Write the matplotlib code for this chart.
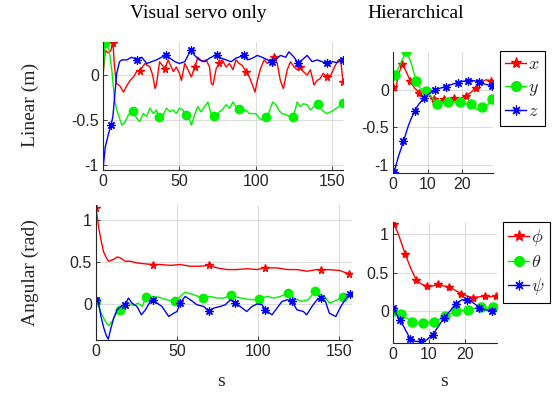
import numpy as np
import matplotlib
matplotlib.use("Agg")
import matplotlib.pyplot as plt
from matplotlib.lines import Line2D

plt.rcParams['font.family'] = ['Liberation Sans', 'DejaVu Sans']
plt.rcParams['mathtext.fontset'] = 'cm'

# ---------------- Data: Visual servo only, linear ----------------
vs_x_t = [0, 1.5, 3, 5, 6.5, 7.5, 8.7, 11, 13.4, 15.5, 17.7, 20, 22, 24, 27.5, 30.7, 32.5, 34, 35, 37,
          40.5, 42.6, 46, 48, 50, 51.3, 53.5, 55.6, 57.8, 60, 62, 65, 67.5, 69.7, 70.8, 72, 74, 76, 78,
          80.5, 82.7, 85, 87, 89, 91, 93.5, 95.7, 97.8, 99.4, 101, 103, 105.4, 107.6, 110, 112, 114, 116,
          118, 120.5, 122.7, 125, 127, 129, 131, 133.5, 135.7, 138, 140, 142, 144, 146.5, 149, 152, 154,
          155.5, 157]
vs_x_v = [0.0, 0.28, 0.25, 0.27, 0.36, 0.1, -0.09, -0.12, -0.19, -0.12, -0.06, -0.02, 0.04, 0.05, 0.13,
          0.09, 0.0, -0.15, -0.1, 0.15, 0.07, 0.17, 0.04, 0.09, 0.02, -0.06, 0.13, 0.06, -0.02, 0.09, 0.2,
          0.15, 0.17, 0.09, -0.09, -0.11, 0.07, 0.13, 0.17, 0.09, 0.13, 0.06, 0.17, 0.13, 0.11, 0.04, -0.02,
          -0.11, -0.19, -0.06, 0.07, 0.17, 0.13, 0.17, 0.2, 0.13, -0.06, -0.15, 0.06, 0.15, 0.09, 0.06, 0.09,
          0.04, 0.0, 0.06, -0.11, -0.06, -0.04, 0.02, -0.02, 0.0, 0.11, 0.17, 0.18, -0.08]
vs_x_marks = [6.5, 24, 41.5, 59, 76.5, 94, 111.5, 129, 146.5, 157]

vs_y_t = [0, 1.5, 4, 5.8, 7.6, 9, 10.8, 12.3, 14.5, 16.7, 19.5, 22, 24, 26.4, 28.6, 30.7, 33, 35, 36.6,
          39.4, 41.6, 43.7, 46, 48, 50, 52.4, 54, 56.7, 57.8, 60, 62, 64, 66.5, 68.6, 70.8, 72.3, 74, 76,
          78, 80.5, 82.7, 85, 87, 89, 91, 93.5, 95.7, 97.8, 100, 102, 104, 106.5, 108.7, 111, 113, 115,
          117, 119.5, 121.6, 124, 126, 127, 129, 131, 133.5, 135.7, 138, 140.7, 143, 146.5, 149, 152, 155, 157]
vs_y_v = [0.0, 0.36, 0.28, 0.05, -0.28, -0.39, -0.48, -0.56, -0.52, -0.44, -0.40, -0.48, -0.52, -0.43,
          -0.46, -0.37, -0.43, -0.39, -0.47, -0.44, -0.37, -0.41, -0.39, -0.43, -0.37, -0.39, -0.44, -0.5,
          -0.56, -0.44, -0.35, -0.41, -0.35, -0.30, -0.44, -0.46, -0.5, -0.41, -0.39, -0.33, -0.37, -0.30,
          -0.35, -0.38, -0.41, -0.39, -0.43, -0.43, -0.43, -0.48, -0.5, -0.47, -0.41, -0.30, -0.33, -0.39,
          -0.43, -0.44, -0.46, -0.47, -0.37, -0.30, -0.35, -0.32, -0.33, -0.39, -0.35, -0.32, -0.39, -0.43,
          -0.41, -0.38, -0.34, -0.31]
vs_y_marks = [1.5, 19.5, 36.6, 54, 72.3, 89, 106.5, 124, 140.7, 157]

vs_z_t = [0, 1.5, 3.7, 5.2, 6.5, 7.6, 9, 10.8, 12.3, 15.6, 18.8, 22, 25.3, 28.6, 31.8, 35, 38.3, 41, 43.7,
          47, 50, 53.5, 55.6, 57.4, 60, 63, 66.5, 69.7, 74.5, 77.3, 80.5, 83.8, 87, 92, 94.6, 97.8, 101,
          104, 107.6, 110.4, 113, 116, 119.5, 121.6, 125, 127.7, 130.3, 133.5, 136.8, 140, 143.3, 146.5,
          150, 153, 157]
vs_z_v = [-1.05, -0.8, -0.65, -0.56, -0.46, -0.24, 0.02, 0.15, 0.17, 0.17, 0.2, 0.17, 0.2, 0.13, 0.15,
          0.17, 0.2, 0.23, 0.19, 0.15, 0.13, 0.15, 0.22, 0.28, 0.22, 0.17, 0.15, 0.19, 0.23, 0.19, 0.17,
          0.15, 0.19, 0.22, 0.17, 0.19, 0.22, 0.2, 0.17, 0.15, 0.17, 0.22, 0.2, 0.26, 0.2, 0.13, 0.17, 0.22,
          0.15, 0.17, 0.15, 0.13, 0.15, 0.14, 0.17]
vs_z_marks = [5.2, 22, 41, 57.4, 74.5, 92, 110.4, 127.7, 146.5, 157]

# ---------------- Data: Hierarchical, linear ----------------
h_x_t = [0, 0.8, 1.4, 2.7, 3.8, 5, 6.2, 7.6, 9, 10.5, 11.9, 13.3, 14.8, 16.2, 17.6, 19, 21, 22.4, 23.8,
         25.2, 26.7, 28.1]
h_x_v = [0.04, -0.02, 0.18, 0.34, 0.24, 0.11, 0.02, -0.04, -0.04, -0.09, -0.13, -0.16, -0.12, -0.13,
         -0.11, -0.13, -0.08, -0.04, 0.02, 0.09, 0.13, 0.12]
h_x_marks = [0, 2.7, 5, 7.6, 11.9, 14.8, 17.6, 21, 23.8, 28.1]

h_y_t = [0, 0.7, 1.4, 3.8, 5.2, 6.7, 8.1, 9.5, 11, 12.6, 14.3, 15.9, 17.6, 19.2, 21, 22.4, 24.3, 25.7,
         27.4, 28.6]
h_y_v = [0.2, 0.2, 0.27, 0.51, 0.36, 0.11, 0.0, -0.02, -0.09, -0.19, -0.17, -0.16, -0.17, -0.16, -0.19,
         -0.19, -0.27, -0.23, -0.2, -0.12]
h_y_marks = [0.7, 3.8, 6.7, 9.5, 12.6, 15.9, 19.2, 22.4, 25.7, 28.6]

h_z_t = [0.3, 1.5, 3, 4.5, 6.2, 7.5, 9, 10.5, 12.2, 13.7, 15.2, 17, 18.6, 20, 21.7, 23.3, 24.9, 26.6, 28.4]
h_z_v = [-1.1, -0.9, -0.69, -0.47, -0.28, -0.19, -0.11, -0.05, 0.0, 0.02, 0.04, 0.07, 0.09, 0.11, 0.12,
         0.12, 0.1, 0.07, 0.05]
h_z_marks = [0.3, 3, 6.2, 9, 12.2, 15.2, 18.6, 21.7, 24.9, 28.4]

# ---------------- Data: Visual servo only, angular ----------------
vs_phi_t = [0, 1.6, 3.1, 4.7, 6.4, 7.8, 10.9, 13, 15, 18, 21, 25, 29.4, 35, 39.7, 46, 52, 58, 64.4, 69.5,
            74.7, 80.9, 87, 93, 99.4, 104, 111.7, 118, 124, 130, 136.4, 139, 142.6, 150, 156]
vs_phi_v = [1.14, 0.92, 0.76, 0.62, 0.55, 0.51, 0.53, 0.56, 0.55, 0.51, 0.51, 0.49, 0.48, 0.47, 0.47, 0.46,
            0.47, 0.45, 0.45, 0.46, 0.43, 0.41, 0.41, 0.42, 0.41, 0.43, 0.43, 0.41, 0.41, 0.39, 0.41, 0.40,
            0.41, 0.40, 0.36]
vs_phi_marks = [0, 35, 69.5, 104, 139, 156]

vs_th_t = [0, 1.6, 3.7, 5.8, 7.8, 9.9, 11.9, 14.6, 17, 20, 23, 26, 28.4, 31, 34.6, 38.7, 43.8, 49, 52, 55,
           60.3, 66, 70.6, 74.7, 78.8, 83.3, 87, 92, 96.3, 100.8, 105.5, 109.7, 113.8, 118.3, 123, 127, 131,
           135.4, 138.5, 141.6, 144, 148, 152.5, 156]
vs_th_v = [0.03, -0.03, -0.13, -0.21, -0.26, -0.21, -0.13, -0.07, -0.02, 0.01, -0.02, 0.01, -0.03, 0.08,
           0.09, 0.08, 0.05, 0.03, 0.09, 0.14, 0.11, 0.07, 0.09, 0.07, 0.07, 0.11, 0.08, 0.06, 0.05, 0.06,
           0.09, 0.07, 0.09, 0.13, 0.06, 0.03, 0.05, 0.16, 0.11, 0.08, 0.01, 0.04, 0.08, 0.1]
vs_th_marks = [0, 14.6, 31, 49, 66, 83.3, 100.8, 118.3, 135.4, 152.5]

vs_psi_t = [0, 1.6, 3.1, 4.7, 6.4, 7.6, 8.8, 10.9, 13, 16, 18, 20, 22.2, 25.3, 28, 30.5, 33.5, 35, 37.7,
            40.7, 44.9, 48, 50, 52, 55, 58.2, 62.3, 66.5, 69.5, 72.6, 76.7, 79.8, 83, 86, 89, 93, 96.3,
            99.4, 102.5, 104.5, 108.6, 111.7, 114.8, 118, 121, 124, 128, 130, 133.3, 136.4, 139, 141.6,
            144, 148, 151.4, 154.5, 156.6]
vs_psi_v = [0.05, 0.01, -0.15, -0.28, -0.38, -0.42, -0.32, -0.17, -0.07, -0.02, -0.01, 0.07, 0.01, -0.03,
            -0.13, -0.07, 0.03, 0.05, 0.01, -0.03, -0.15, -0.11, -0.09, 0.01, 0.09, 0.05, -0.01, -0.03,
            -0.09, -0.05, -0.03, -0.01, 0.05, 0.01, -0.03, -0.09, -0.03, 0.0, -0.01, -0.07, -0.13, -0.05,
            0.03, 0.05, 0.03, -0.07, -0.09, -0.13, -0.03, 0.05, 0.07, 0.03, -0.11, -0.15, -0.02, 0.07, 0.12]
vs_psi_marks = [0, 18, 35, 52, 69.5, 86, 104.5, 121, 139, 156.6]

# ---------------- Data: Hierarchical, angular ----------------
h_phi_t = [0, 0.2, 1.5, 3.4, 5, 6.4, 8, 9.4, 11, 12.4, 14, 15.6, 17, 18.9, 20.5, 22.1, 24, 25.5, 27, 28.5]
h_phi_v = [1.14, 1.14, 1.0, 0.74, 0.55, 0.41, 0.35, 0.33, 0.33, 0.35, 0.33, 0.32, 0.28, 0.23, 0.2, 0.18,
           0.19, 0.2, 0.19, 0.2]
h_phi_marks = [0.2, 3.4, 6.4, 9.4, 12.4, 15.6, 18.9, 22.1, 25.5, 28.5]

h_th_t = [0, 2.3, 5.3, 8.3, 11.4, 14.5, 17.5, 20.9, 24.3, 26, 27.8]
h_th_v = [0.01, -0.03, -0.14, -0.15, -0.14, -0.06, 0.0, 0.02, 0.06, 0.03, 0.06]
h_th_marks = [0, 2.3, 5.3, 8.3, 11.4, 14.5, 17.5, 20.9, 24.3, 27.8]

h_psi_t = [0, 1.8, 3, 4.8, 6.2, 7.7, 9.3, 11, 12.5, 14, 15.7, 17.4, 19, 20.5, 22, 23.9, 25.5, 27.4, 28.5]
h_psi_v = [0.05, -0.11, -0.2, -0.36, -0.39, -0.39, -0.37, -0.3, -0.2, -0.09, 0.0, 0.1, 0.15, 0.15, 0.12,
           0.05, 0.02, 0.01, 0.0]
h_psi_marks = [0, 1.8, 4.8, 7.7, 11, 14, 17.4, 20.5, 23.9, 27.4]

# ---------------- Styling ----------------
RED = (1, 0, 0)
GREEN = (0, 0.95, 0)
BLUE = (0, 0, 1)
STAR = '*'
CIRC = 'o'
AST = (8, 2, 0)
TXT = '#262626'

fig = plt.figure(figsize=(5.57, 3.96), dpi=100)

def make_ax(rect, xlim, ylim, xticks, yticks):
    ax = fig.add_axes(rect)
    ax.set_xlim(*xlim)
    ax.set_ylim(*ylim)
    ax.set_xticks(xticks)
    ax.set_yticks(yticks)
    ax.set_xticklabels([f'{v:g}' for v in xticks])
    ax.set_yticklabels([f'{v:g}' for v in yticks])
    for s in ['top', 'right']:
        ax.spines[s].set_visible(False)
    for s in ['left', 'bottom']:
        ax.spines[s].set_color(TXT)
        ax.spines[s].set_linewidth(0.8)
    ax.tick_params(direction='in', length=3, width=0.6, colors=TXT, labelsize=11.5, pad=3)
    ax.grid(True, color='#dcdcdc', linewidth=0.8)
    ax.set_axisbelow(True)
    return ax

def marks_idx(t, mt):
    t = np.asarray(t)
    return sorted(set(int(np.argmin(np.abs(t - m))) for m in mt))

def series(ax, t, v, mt, color, marker, ms):
    kw = dict(color=color, linewidth=1.0, marker=marker, markevery=marks_idx(t, mt),
              markersize=ms, markerfacecolor=color, markeredgecolor=color)
    if marker == AST:
        kw['markeredgewidth'] = 0.9
    ax.plot(t, v, **kw)

W, H = 557.0, 396.0
def rect(l, r, top, bot):
    return [l / W, 1 - bot / H, (r - l) / W, (bot - top) / H]

ax1 = make_ax(rect(103, 343, 42, 170), (0, 157), (-1.06, 0.37), [0, 50, 100, 150], [-1, -0.5, 0])
ax2 = make_ax(rect(393, 493, 52, 173), (0, 28.8), (-1.11, 0.5), [0, 10, 20], [-1, -0.5, 0])
ax3 = make_ax(rect(96, 352, 205, 340), (0, 158), (-0.43, 1.18), [0, 50, 100, 150], [0, 0.5, 1])
ax4 = make_ax(rect(393, 497, 222, 343), (0, 28.8), (-0.41, 1.16), [0, 10, 20], [0, 0.5, 1])

series(ax1, vs_x_t, vs_x_v, vs_x_marks, RED, STAR, 5.5)
series(ax1, vs_y_t, vs_y_v, vs_y_marks, GREEN, CIRC, 6)
series(ax1, vs_z_t, vs_z_v, vs_z_marks, BLUE, AST, 6)

series(ax2, h_x_t, h_x_v, h_x_marks, RED, STAR, 6)
series(ax2, h_y_t, h_y_v, h_y_marks, GREEN, CIRC, 6.5)
series(ax2, h_z_t, h_z_v, h_z_marks, BLUE, AST, 6)

series(ax3, vs_phi_t, vs_phi_v, vs_phi_marks, RED, STAR, 5.5)
series(ax3, vs_th_t, vs_th_v, vs_th_marks, GREEN, CIRC, 6)
series(ax3, vs_psi_t, vs_psi_v, vs_psi_marks, BLUE, AST, 6)

series(ax4, h_phi_t, h_phi_v, h_phi_marks, RED, STAR, 6)
series(ax4, h_th_t, h_th_v, h_th_marks, GREEN, CIRC, 6.5)
series(ax4, h_psi_t, h_psi_v, h_psi_marks, BLUE, AST, 6)

def legend(labels, bbox):
    handles = [Line2D([], [], color=RED, marker=STAR, markersize=8, lw=1.0),
               Line2D([], [], color=GREEN, marker=CIRC, markersize=7, lw=1.0),
               Line2D([], [], color=BLUE, marker=AST, markersize=7, lw=1.0, markeredgewidth=0.9)]
    leg = fig.legend(handles, labels, loc='upper left', bbox_to_anchor=bbox,
                     fancybox=False, framealpha=1, edgecolor='black', fontsize=13,
                     handlelength=1.15, handletextpad=0.1, borderpad=0.3, labelspacing=0.3,
                     borderaxespad=0)
    leg.get_frame().set_linewidth(0.8)
    for tx in leg.get_texts():
        tx.set_color(TXT)

legend(['$x$', '$y$', '$z$'], (500 / W, 1 - 51 / H))
legend([r'$\phi$', r'$\theta$', r'$\psi$'], (503 / W, 1 - 222 / H))

serif = ['Liberation Serif', 'DejaVu Serif']
fig.text(198 / W, 1 - 13 / H, 'Visual servo only', family=serif, fontsize=14, ha='center', va='center', color='black')
fig.text(416 / W, 1 - 13 / H, 'Hierarchical', family=serif, fontsize=14, ha='center', va='center', color='black')
fig.text(30 / W, 1 - 105 / H, 'Linear (m)', family=serif, fontsize=14, rotation=90, ha='center', va='center', color=TXT)
fig.text(30 / W, 1 - 273 / H, 'Angular (rad)', family=serif, fontsize=14, rotation=90, ha='center', va='center', color=TXT)
fig.text(221 / W, 1 - 381 / H, 's', family=serif, fontsize=14, ha='center', va='center', color=TXT)
fig.text(444 / W, 1 - 381 / H, 's', family=serif, fontsize=14, ha='center', va='center', color=TXT)

fig.savefig('out.png', dpi=100)
